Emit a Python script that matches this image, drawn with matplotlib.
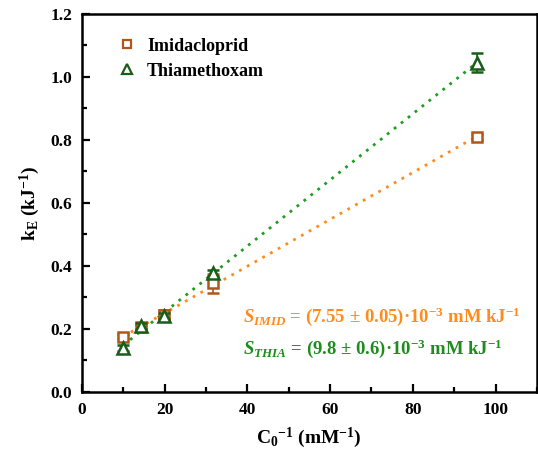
import numpy as np
import matplotlib
matplotlib.use("Agg")
import matplotlib.pyplot as plt
from matplotlib.ticker import MultipleLocator
from matplotlib.lines import Line2D

plt.rcParams['font.family'] = ['Liberation Serif', 'DejaVu Serif']
plt.rcParams['font.weight'] = 'bold'
plt.rcParams['mathtext.fontset'] = 'custom'
plt.rcParams['mathtext.rm'] = 'Liberation Serif:bold'
plt.rcParams['mathtext.it'] = 'Liberation Serif:bold:italic'
plt.rcParams['mathtext.bf'] = 'Liberation Serif:bold'

x_imid = [10, 14.3, 19.9, 31.7, 95.5]
y_imid = [0.175, 0.205, 0.245, 0.345, 0.81]
e_imid = [0.008, 0.008, 0.015, 0.03, 0.01]

x_thia = [10, 14.3, 19.9, 31.7, 95.5]
y_thia = [0.14, 0.21, 0.24, 0.378, 1.045]
e_thia = [0.01, 0.01, 0.01, 0.01, 0.03]

c_imid_mk = '#B0561A'
c_imid_ln = '#FF8C1A'
c_thia_mk = '#1A5C1A'
c_thia_ln = '#1E9E1E'

fig = plt.figure(figsize=(5.38, 4.61), dpi=100)
ax = fig.add_axes([0.152, 0.150, 0.846, 0.820])

for xs, ys, c in [(x_imid, y_imid, c_imid_ln), (x_thia, y_thia, c_thia_ln)]:
    p = np.polyfit(xs, ys, 1)
    xx = np.array([min(xs), max(xs)])
    ax.plot(xx, np.polyval(p, xx), ls=(0, (1, 2.2)), color=c, lw=2.0, zorder=2)

ax.errorbar(x_imid, y_imid, yerr=e_imid, fmt='s', ms=6.5, mfc='white', mec=c_imid_mk,
            mew=1.8, ecolor=c_imid_mk, elinewidth=1.2, capsize=4, capthick=1.2, zorder=3)
ax.errorbar(x_thia, y_thia, yerr=e_thia, fmt='^', ms=8.5, mfc='white', mec=c_thia_mk,
            mew=1.8, ecolor=c_thia_mk, elinewidth=1.2, capsize=4, capthick=1.2, zorder=4)

ax.set_xlim(0, 110)
ax.set_ylim(0, 1.2)
ax.xaxis.set_major_locator(MultipleLocator(20))
ax.xaxis.set_minor_locator(MultipleLocator(10))
ax.yaxis.set_major_locator(MultipleLocator(0.2))
ax.yaxis.set_minor_locator(MultipleLocator(0.1))
ax.set_yticklabels([f'{v:.1f}' for v in ax.get_yticks()])
ax.tick_params(which='both', direction='in', top=False, right=False, labelsize=12.5, width=1.6)
ax.tick_params(which='major', length=6, pad=7)
ax.tick_params(which='minor', length=3.5)
for s in ax.spines.values():
    s.set_linewidth(1.8)

ax.set_xlabel(r'C$_\mathrm{0}$$^\mathrm{-1}$ (mM$^\mathrm{-1}$)', fontsize=14, fontweight='bold', labelpad=6)
ax.set_ylabel(r'k$_\mathrm{E}$ (kJ$^\mathrm{-1}$)', fontsize=14, fontweight='bold', labelpad=6)

handles = [Line2D([], [], ls='none', marker='s', ms=6, mfc='white', mec=c_imid_mk, mew=1.6),
           Line2D([], [], ls='none', marker='^', ms=7, mfc='white', mec=c_thia_mk, mew=1.6)]
leg = ax.legend(handles, ['Imidacloprid', 'Thiamethoxam'], loc='upper left', frameon=False,
                fontsize=13, bbox_to_anchor=(0.04, 0.98), handletextpad=0.5,
                labelspacing=0.45, handlelength=1.2)
for t in leg.get_texts():
    t.set_fontweight('bold')

ax.text(0.355, 0.185, '$S_{IMID}$ = (7.55 \u00b1 0.05)\u00b710$^\\mathrm{-3}$ mM kJ$^\\mathrm{-1}$',
        transform=ax.transAxes, color=c_imid_ln, fontsize=13.5, fontweight='bold')
ax.text(0.355, 0.100, '$S_{THIA}$ = (9.8 \u00b1 0.6)\u00b710$^\\mathrm{-3}$ mM kJ$^\\mathrm{-1}$',
        transform=ax.transAxes, color='#1E8C1E', fontsize=13.5, fontweight='bold')

fig.savefig('out.png', dpi=100)
